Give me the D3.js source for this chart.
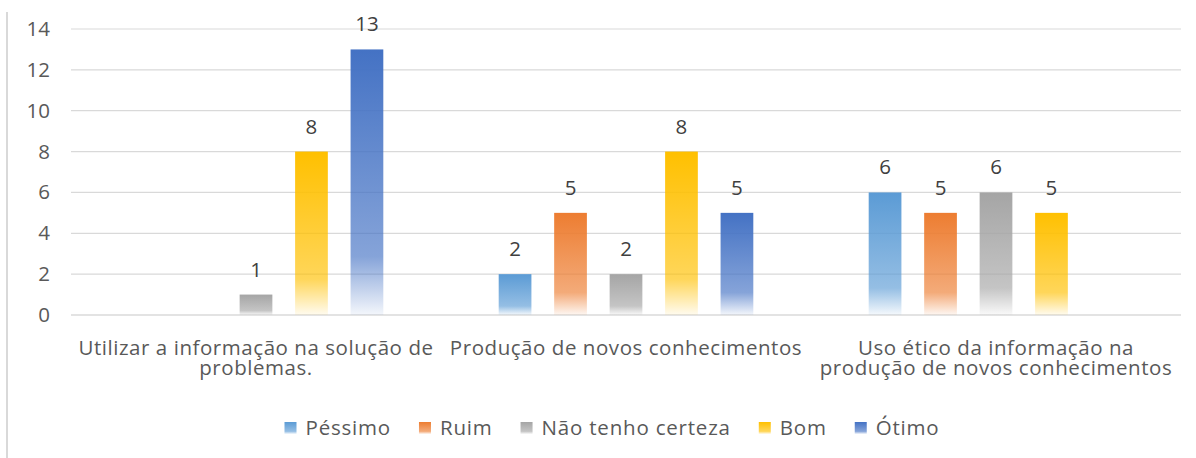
<!DOCTYPE html>
<html lang="pt">
<head>
  <meta charset="UTF-8" />
  <title>Avaliação das competências</title>
  <script src="https://cdn.jsdelivr.net/npm/d3@7"></script>
  <style>
    body {
      margin: 0;
      background: #fff;
      font-family: "Open Sans", "Noto Sans", sans-serif;
    }
    #chart svg { display: block; }
  </style>
</head>
<body>
  <div id="chart"></div>

  <script>
    // Data
    const categories = [
      ["Utilizar a informação na solução de", "problemas."],
      ["Produção de novos conhecimentos"],
      ["Uso ético da informação na", "produção de novos conhecimentos"]
    ];
    const seriesNames = ["Péssimo", "Ruim", "Não tenho certeza", "Bom", "Ótimo"];
    const seriesColors = ["#5B9BD5", "#ED7D31", "#A5A5A5", "#FFC000", "#4472C4"];
    const pessimo = [0, 2, 6];
    const ruim = [0, 5, 5];
    const naoTenho = [1, 2, 6];
    const bom = [8, 8, 5];
    const otimo = [13, 5, 0];
    const yTicks = [0, 2, 4, 6, 8, 10, 12, 14];

    const seriesValues = [pessimo, ruim, naoTenho, bom, otimo];

    const width = 1196, height = 458;
    const margin = {top: 29, right: 15, bottom: 143, left: 71};
    const innerW = width - margin.left - margin.right;
    const innerH = height - margin.top - margin.bottom;
    const fontSize = "20.5px";

    const svg = d3.select("#chart")
      .append("svg")
        .attr("width", width)
        .attr("height", height);

    // gradients, one per series (Excel-like fade to white)
    const defs = svg.append("defs");
    seriesColors.forEach((c, i) => {
      const g = defs.append("linearGradient")
        .attr("id", "grad" + i)
        .attr("x1", 0).attr("y1", 0).attr("x2", 0).attr("y2", 1);
      g.append("stop").attr("offset", "0%").attr("stop-color", c).attr("stop-opacity", 1);
      g.append("stop").attr("offset", "78%").attr("stop-color", c).attr("stop-opacity", 0.65);
      g.append("stop").attr("offset", "100%").attr("stop-color", c).attr("stop-opacity", 0.06);
    });

    // left frame line
    svg.append("line")
      .attr("x1", 7).attr("x2", 7)
      .attr("y1", 12).attr("y2", height)
      .attr("stroke", "#d9d9d9")
      .attr("stroke-width", 2);

    const g = svg.append("g")
      .attr("transform", `translate(${margin.left},${margin.top})`);

    const x0 = d3.scaleBand()
      .domain(d3.range(categories.length))
      .range([0, innerW]);

    const x1 = d3.scaleBand()
      .domain(seriesNames)
      .range([0, x0.bandwidth()])
      .paddingInner(0.41)
      .paddingOuter(1.04);

    const y = d3.scaleLinear()
      .domain([0, 14])
      .range([innerH, 0]);

    // gridlines
    g.append("g")
      .selectAll("line")
      .data(yTicks)
      .join("line")
        .attr("x1", 0).attr("x2", innerW)
        .attr("y1", d => y(d)).attr("y2", d => y(d))
        .attr("stroke", d => d === 0 ? "#c8c8c8" : "#d9d9d9")
        .attr("stroke-width", 1.2);

    // y axis labels
    const yAxis = g.append("g")
      .attr("transform", "translate(-21,0)")
      .call(d3.axisLeft(y).tickValues(yTicks).tickSize(0).tickPadding(0));
    yAxis.select(".domain").remove();
    yAxis.selectAll("text")
      .attr("fill", "#595959")
      .style("font-family", "'Open Sans', sans-serif")
      .style("font-size", fontSize);

    // bars
    const groups = g.selectAll("g.cat")
      .data(categories.map((c, ci) => ci))
      .join("g")
        .attr("class", "cat")
        .attr("transform", ci => `translate(${x0(ci)},0)`);

    groups.selectAll("rect")
      .data(ci => seriesNames.map((s, si) => ({s, si, v: seriesValues[si][ci]})).filter(d => d.v > 0))
      .join("rect")
        .attr("x", d => x1(d.s))
        .attr("y", d => y(d.v))
        .attr("width", x1.bandwidth())
        .attr("height", d => y(0) - y(d.v))
        .attr("fill", d => `url(#grad${d.si})`);

    // data labels
    groups.selectAll("text.val")
      .data(ci => seriesNames.map((s, si) => ({s, si, v: seriesValues[si][ci]})).filter(d => d.v > 0))
      .join("text")
        .attr("class", "val")
        .attr("x", d => x1(d.s) + x1.bandwidth() / 2)
        .attr("y", d => y(d.v) - 18)
        .attr("text-anchor", "middle")
        .attr("fill", "#404040")
        .style("font-size", fontSize)
        .text(d => d.v);

    // category labels
    const catLabels = g.append("g")
      .selectAll("text")
      .data(categories)
      .join("text")
        .attr("x", (d, i) => x0(i) + x0.bandwidth() / 2)
        .attr("y", innerH + 40)
        .attr("text-anchor", "middle")
        .attr("fill", "#595959")
        .style("font-size", fontSize)
        .style("letter-spacing", "0.55px");
    catLabels.selectAll("tspan")
      .data(d => d)
      .join("tspan")
        .attr("x", function() { return this.parentNode.getAttribute("x"); })
        .attr("dy", (d, i) => i === 0 ? 0 : 20)
        .text(d => d);

    // legend
    const legend = svg.append("g")
      .attr("transform", "translate(0,428)");
    const items = legend.selectAll("g")
      .data(seriesNames)
      .join("g");
    items.append("rect")
      .attr("y", -6)
      .attr("width", 12)
      .attr("height", 12)
      .attr("fill", (d, i) => `url(#grad${i})`);
    items.append("text")
      .attr("x", 21)
      .attr("y", 0)
      .attr("dy", "0.35em")
      .attr("fill", "#595959")
      .style("font-size", fontSize)
      .style("letter-spacing", "0.8px")
      .text(d => d);

    let pos = 0;
    const offsets = [];
    items.each(function() {
      offsets.push(pos);
      const tw = d3.select(this).select("text").node().getComputedTextLength();
      pos += 21 + tw + 28;
    });
    const totalW = pos - 28;
    const startX = 612 - totalW / 2;
    items.attr("transform", (d, i) => `translate(${startX + offsets[i]},0)`);
  </script>
</body>
</html>
